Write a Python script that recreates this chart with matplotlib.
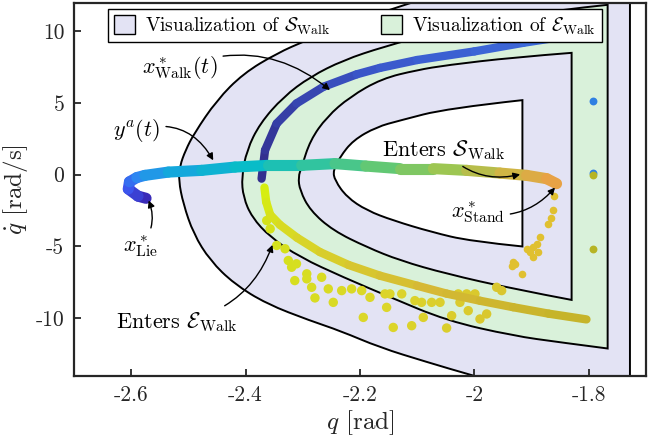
import numpy as np
import matplotlib
matplotlib.use("Agg")
import matplotlib.pyplot as plt
from matplotlib.patches import PathPatch, Patch
from matplotlib.path import Path
from matplotlib.collections import LineCollection
from matplotlib.colors import LinearSegmentedColormap

plt.rcParams['font.family'] = 'cmr10'
plt.rcParams['mathtext.fontset'] = 'cm'
plt.rcParams['axes.unicode_minus'] = False

# ---- set boundaries (q [rad], qdot [rad/s]) ----
outer_q = [-1.95, -2.002, -2.085, -2.165, -2.235, -2.287, -2.363, -2.42, -2.462, -2.491,
           -2.509, -2.517, -2.515, -2.505, -2.49, -2.4505, -2.404, -2.3456, -2.293,
           -2.22, -2.148, -2.11, -2.07]
outer_qd = [-14.6, -14.03, -13.05, -12.06, -10.89, -10.19, -9.02, -7.62, -5.99, -4.13,
            -2.03, -0.4, 0.6, 1.7, 2.87, 5.19, 7.06, 8.46, 9.39,
            10.55, 11.5, 12.0, 12.5]
outer_qmax = -1.728

gout_q = [-1.767, -1.85, -1.932, -2.0485, -2.15, -2.229, -2.305, -2.357, -2.389, -2.404,
          -2.407, -2.398, -2.375, -2.334, -2.287, -2.229, -2.159, -2.06, -1.95, -1.85, -1.767]
gout_qd = [-12.13, -11.7, -11.24, -10.19, -8.5, -7.16, -5.76, -4.36, -2.97, -1.57,
           -0.17, 1.70, 3.57, 5.43, 6.83, 7.99, 8.92, 10.0, 10.9, 11.5, 11.85]

gin_q = [-1.830, -1.932, -2.0485, -2.13, -2.188, -2.247, -2.287, -2.305, -2.308, -2.302,
         -2.287, -2.258, -2.2175, -2.162, -2.10, -2.0485, -1.932, -1.830]
gin_qd = [-8.74, -7.97, -6.92, -5.99, -5.06, -3.90, -2.50, -1.10, -0.17, 0.53,
          2.4, 4.03, 5.43, 6.7, 7.3, 7.64, 8.18, 8.5]

white_q = [-1.916, -2.0075, -2.075, -2.1418, -2.188, -2.223, -2.244, -2.247, -2.235, -2.212,
           -2.171, -2.13, -2.0485, -1.916]
white_qd = [-5.01, -4.64, -4.0, -3.20, -2.50, -1.57, -0.40, 0.3, 1.23, 2.4,
            3.33, 3.78, 4.62, 5.2]

# ---- trajectories ----
walk_up_q = [-2.372, -2.366, -2.3456, -2.311, -2.264, -2.2058, -2.165, -2.10, -2.0, -1.9145, -1.85, -1.80]
walk_up_qd = [-0.28, 1.70, 3.57, 4.97, 6.13, 7.0, 7.45, 8.0, 8.6, 9.2, 9.6, 9.9]

walk_lo_q = [-2.367, -2.364, -2.357, -2.34, -2.31, -2.27, -2.22, -2.165, -2.10, -2.0485,
             -1.99, -1.932, -1.87, -1.804]
walk_lo_qd = [-0.9, -1.9, -2.8, -3.5, -4.4, -5.4, -6.3, -7.05, -7.75, -8.3,
              -8.8, -9.25, -9.7, -10.1]

ya_q = [-2.574, -2.588, -2.605, -2.603, -2.590, -2.576, -2.535, -2.4767, -2.4185, -2.3603,
        -2.302, -2.2437, -2.19, -2.13, -2.0718, -2.0135, -1.9552, -1.9086, -1.8737, -1.8563]
ya_qd = [-1.65, -1.5, -1.0, -0.5, -0.2, -0.05, 0.18, 0.3, 0.53, 0.65,
         0.65, 0.77, 0.6, 0.42, 0.42, 0.30, 0.11, -0.05, -0.28, -0.63]

fall_q = [-1.8608, -1.862, -1.866, -1.8707, -1.8853, -1.891, -1.897, -1.888, -1.9028, -1.897,
          -1.9087, -1.932, -1.929, -1.9348, -1.917]
fall_qd = [-1.52, -2.5, -3.0, -3.43, -4.36, -4.83, -5.06, -5.41, -5.41, -5.76,
           -5.17, -6.11, -6.22, -6.34, -6.92]

blob_q = [-2.363, -2.357, -2.3456, -2.331, -2.3253, -2.3195, -2.311, -2.314, -2.293, -2.293,
          -2.2845, -2.2787, -2.267, -2.2554, -2.2467, -2.232, -2.2146, -2.197, -2.1825, -2.1942,
          -2.1534, -2.1476, -2.1418, -2.1563, -2.127, -2.1096, -2.104, -2.0922, -2.0893, -2.0747,
          -2.06, -2.0485, -2.0397, -2.0282, -2.0252, -2.0107, -2.0135, -1.999, -1.9902, -1.9785,
          -1.961, -1.9523]
blob_qd = [-3.2, -3.78, -4.94, -5.17, -5.99, -6.46, -6.22, -7.39, -6.92, -7.27,
           -7.86, -8.6, -7.16, -7.97, -8.91, -8.09, -7.97, -8.09, -8.56, -9.96,
           -9.26, -8.32, -10.66, -8.32, -8.32, -10.54, -8.79, -8.91, -9.96, -8.91,
           -8.91, -10.7, -9.84, -8.32, -8.91, -9.49, -8.32, -8.32, -10.07, -9.72,
           -7.86, -8.09]

dots_blue_q = [-1.793, -1.793]
dots_blue_qd = [5.12, 0.1]
dots_olive_q = [-1.793, -1.793]
dots_olive_qd = [0.0, -5.17]

xticks = [-2.6, -2.4, -2.2, -2.0, -1.8]
xticklabels = ['-2.6', '-2.4', '-2.2', '-2', '-1.8']
yticks = [-10, -5, 0, 5, 10]
yticklabels = ['-10', '-5', '0', '5', '10']

purple = '#e3e3f4'
green = '#d9f1da'

fig = plt.figure(figsize=(6.57, 4.47), dpi=100)
ax = fig.add_axes([0.1126, 0.1588, 0.8706, 0.8352])


def region(qs, qds, qmax, color):
    # boundary curve drawn as quadratic splines through the read points,
    # straight right edge closes it
    p = list(zip(qs, qds))
    verts = [p[0]]
    codes = [Path.MOVETO]
    for i in range(1, len(p) - 1):
        mid = ((p[i][0] + p[i + 1][0]) / 2, (p[i][1] + p[i + 1][1]) / 2)
        verts += [p[i], mid if i < len(p) - 2 else p[-1]]
        codes += [Path.CURVE3, Path.CURVE3]
    if qmax is not None:
        verts += [(qmax, qds[-1] + 0.1), (qmax, qds[0] - 0.1)]
        codes += [Path.LINETO, Path.LINETO]
    verts.append(p[0])
    codes.append(Path.CLOSEPOLY)
    ax.add_patch(PathPatch(Path(verts, codes), facecolor=color, edgecolor='k', lw=1.4, zorder=1))


region(outer_q, outer_qd, outer_qmax, purple)
region(gout_q, gout_qd, None, green)
region(gin_q, gin_qd, None, purple)
region(white_q, white_qd, None, 'white')


def grad_line(qs, qds, cmap, lw, z=3):
    pts = np.column_stack([qs, qds])
    segs = np.stack([pts[:-1], pts[1:]], axis=1)
    lc = LineCollection(segs, colors=cmap(np.linspace(0, 1, len(segs))), linewidths=lw,
                        capstyle='round', joinstyle='round', zorder=z)
    ax.add_collection(lc)


cm_up = LinearSegmentedColormap.from_list('up', ['#33308f', '#3a55c8', '#3d70e0'])
cm_lo = LinearSegmentedColormap.from_list('lo', ['#d6ee10', '#d8d428', '#d6b935', '#c6b42a'])
cm_ya = LinearSegmentedColormap.from_list('ya', ['#3a2bb8', '#3c55ee', '#2e88f2', '#14a8dc',
                                                 '#08bcc8', '#30c4a0', '#62c874', '#9cc652',
                                                 '#d0b545', '#e8a245'])
cm_blob = LinearSegmentedColormap.from_list('bl', ['#d4e21a', '#dcd62a', '#d9c62e'])

# scattered robot states
ax.scatter(blob_q, blob_qd, s=46, c=cm_blob(np.linspace(0, 1, len(blob_q))), lw=0, zorder=2)
ax.scatter(fall_q, fall_qd, s=30, c='#e0c030', lw=0, zorder=2)

grad_line(walk_up_q, walk_up_qd, cm_up, 6)
grad_line(walk_lo_q, walk_lo_qd, cm_lo, 6)
grad_line(ya_q, ya_qd, cm_ya, 8, z=4)

ax.scatter(dots_blue_q, dots_blue_qd, s=32, c='#2f80e2', lw=0, zorder=3)
ax.scatter(dots_olive_q, dots_olive_qd, s=32, c='#b6b424', lw=0, zorder=3)

# annotations
ap = dict(arrowstyle='-|>', color='k', lw=1.0, mutation_scale=10, shrinkA=2, shrinkB=0)
fs = 16
ax.annotate(r'$x^*_{\rm Walk}(t)$', xy=(-2.2525, 5.9), xytext=(-2.515, 7.45), fontsize=fs,
            ha='center', va='center', zorder=6,
            arrowprops=dict(ap, connectionstyle='arc3,rad=-0.3'))
ax.annotate(r'$y^a(t)$', xy=(-2.4565, 1.0), xytext=(-2.59, 3.1), fontsize=fs,
            ha='center', va='center', zorder=6,
            arrowprops=dict(ap, connectionstyle='arc3,rad=-0.4'))
ax.annotate(r'$x^*_{\rm Lie}$', xy=(-2.5695, -1.8), xytext=(-2.583, -5.0), fontsize=fs,
            ha='center', va='center', zorder=6,
            arrowprops=dict(ap, connectionstyle='arc3,rad=0.3'))
ax.annotate(r'Enters $\mathcal{E}_{\rm Walk}$', xy=(-2.353, -4.9), xytext=(-2.52, -10.27),
            fontsize=fs, ha='center', va='center', zorder=6,
            arrowprops=dict(ap, connectionstyle='arc3,rad=0.3'))
ax.annotate(r'Enters $\mathcal{S}_{\rm Walk}$', xy=(-1.92, 0.02), xytext=(-2.053, 1.7),
            fontsize=fs, ha='center', va='center', zorder=6,
            arrowprops=dict(ap, connectionstyle='arc3,rad=0.3'))
ax.annotate(r'$x^*_{\rm Stand}$', xy=(-1.859, -0.9), xytext=(-1.994, -2.64), fontsize=fs,
            ha='center', va='center', zorder=6,
            arrowprops=dict(ap, connectionstyle='arc3,rad=0.3'))

handles = [Patch(facecolor=purple, edgecolor='k', lw=1.0),
           Patch(facecolor=green, edgecolor='k', lw=1.0)]
leg = ax.legend(handles, [r'Visualization of $\mathcal{S}_{\rm Walk}$',
                          r'Visualization of $\mathcal{E}_{\rm Walk}$'],
                ncol=2, loc='upper left', bbox_to_anchor=(0.059, 0.982), fontsize=14,
                fancybox=False, framealpha=1, edgecolor='k', borderpad=0.3,
                handlelength=1.1, handleheight=1.1, handletextpad=0.5, columnspacing=2.6,
                borderaxespad=0)
leg.get_frame().set_linewidth(1.0)
leg.set_zorder(10)

ax.set_xlim(-2.70, -1.70)
ax.set_ylim(-14.05, 12.0)
ax.set_xticks(xticks, labels=xticklabels)
ax.set_yticks(yticks, labels=yticklabels)
ax.tick_params(direction='in', length=5, width=1.3, labelsize=15.5, colors='#262626',
               labelcolor='#262626', pad=7)
for s in ax.spines.values():
    s.set_linewidth(1.6)
    s.set_color('#262626')
ax.set_xlabel(r'$q$ [rad]', fontsize=18, color='#262626', labelpad=2)
ax.set_ylabel(r'$\dot{q}$ [rad/s]', fontsize=18, color='#262626', labelpad=4)

fig.savefig('out.png', dpi=100)
